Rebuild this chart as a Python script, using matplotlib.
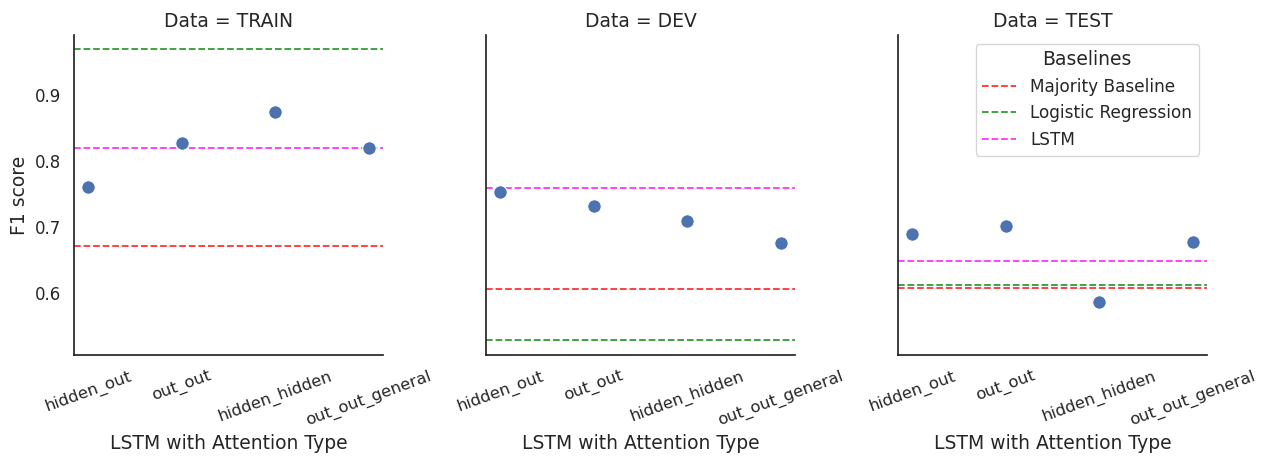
import matplotlib
matplotlib.use("Agg")
import matplotlib.pyplot as plt
import seaborn as sns

sns.set_theme(style="white")

# categories and scores
attention_types = ['hidden_out', 'out_out', 'hidden_hidden', 'out_out_general']
datasets = ['TRAIN', 'DEV', 'TEST']

f1_train = [0.761, 0.827, 0.874, 0.820]
f1_dev = [0.753, 0.732, 0.709, 0.676]
f1_test = [0.689, 0.701, 0.586, 0.677]

majority_baseline = [0.671, 0.606, 0.608]
logistic_regression = [0.970, 0.529, 0.612]
lstm_baseline = [0.820, 0.759, 0.648]

scores = [f1_train, f1_dev, f1_test]

fig = plt.figure(figsize=(12.7, 4.57), dpi=100)
lefts = [0.0583, 0.3827, 0.7071]
axes = []
for i, left in enumerate(lefts):
    if i == 0:
        ax = fig.add_axes([left, 0.223, 0.2433, 0.700])
    else:
        ax = fig.add_axes([left, 0.223, 0.2433, 0.700], sharey=axes[0])
    axes.append(ax)

for i, ax in enumerate(axes):
    ax.scatter(attention_types, scores[i], s=95, color='#4C72B0',
               edgecolor='white', linewidth=0.8, zorder=3)
    ax.axhline(majority_baseline[i], color='red', linestyle='--', linewidth=1.3,
               alpha=0.8, label='Majority Baseline')
    ax.axhline(logistic_regression[i], color='green', linestyle='--', linewidth=1.3,
               alpha=0.8, label='Logistic Regression')
    ax.axhline(lstm_baseline[i], color='magenta', linestyle='--', linewidth=1.3,
               alpha=0.8, label='LSTM')
    ax.set_xlim(-0.15, 3.15)
    ax.set_title(f'Data = {datasets[i]}', fontsize=13.5)
    ax.set_xlabel('LSTM with Attention Type', fontsize=13.5)
    ax.tick_params(axis='x', labelsize=11.8, rotation=20)
    ax.tick_params(axis='y', labelsize=12)
    for lbl in ax.get_xticklabels():
        lbl.set_ha('center')
    sns.despine(ax=ax)
    if i > 0:
        plt.setp(ax.get_yticklabels(), visible=False)

axes[0].set_ylim(0.506, 0.991)
axes[0].set_yticks([0.6, 0.7, 0.8, 0.9])
axes[0].set_ylabel('F1 score', fontsize=13.5)

axes[2].legend(title='Baselines', loc='upper right', fontsize=12.2, title_fontsize=13.5)

fig.savefig('out.png', dpi=100)
